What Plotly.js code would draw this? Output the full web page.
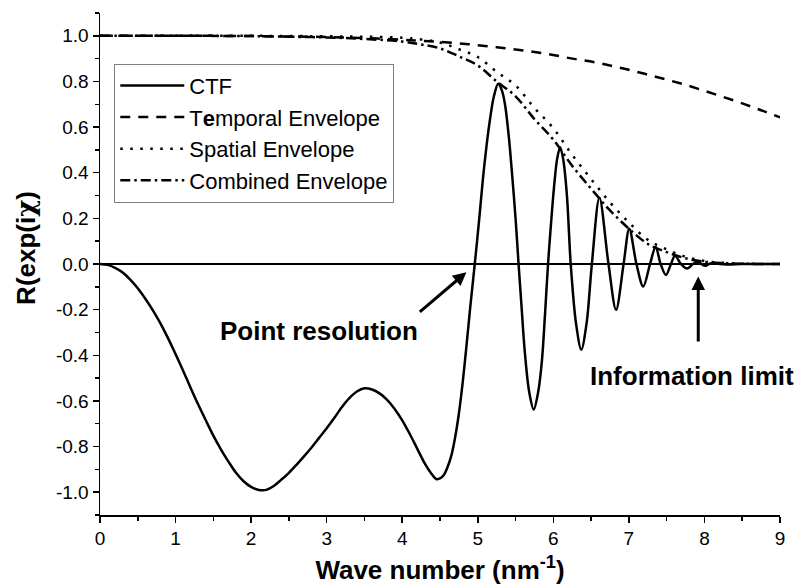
<!DOCTYPE html>
<html>
<head>
<meta charset="utf-8">
<script src="https://cdn.plot.ly/plotly-3.0.1.min.js"></script>
<style>html,body{margin:0;padding:0;background:#fff;}#chart{width:797px;height:585px;}</style>
</head>
<body>
<div id="chart"></div>
<script>
// CTF curve
var ctfX = [0, 0.1, 0.2, 0.3, 0.4, 0.5, 0.6, 0.7, 0.8, 0.9, 1.0, 1.1, 1.2, 1.3, 1.4, 1.5, 1.6, 1.7, 1.8, 1.9,
            2.0, 2.1, 2.2, 2.3, 2.4, 2.5, 2.6, 2.7, 2.8, 2.9, 3.0, 3.1, 3.2, 3.3, 3.4, 3.5, 3.6, 3.7, 3.8, 3.9,
            4.0, 4.1, 4.2, 4.3, 4.4, 4.45, 4.5, 4.55, 4.6, 4.65, 4.7, 4.75, 4.8, 4.85, 4.9, 4.96,
            5.02, 5.07, 5.12, 5.16, 5.21, 5.27, 5.32, 5.36, 5.41, 5.45, 5.50, 5.54, 5.58, 5.62, 5.68, 5.74, 5.80, 5.85, 5.89, 5.93,
            5.97, 6.01, 6.05, 6.09, 6.13, 6.18, 6.23, 6.30, 6.37, 6.44, 6.51, 6.61, 6.73, 6.83, 6.93, 7.005, 7.10, 7.19, 7.28, 7.354,
            7.42, 7.49, 7.557, 7.61, 7.69, 7.77, 7.85, 7.92, 7.96, 8.01, 8.06, 8.12, 8.2, 8.3, 8.5, 8.75, 9.0];
var ctfY = [0, -0.004, -0.017, -0.037, -0.068, -0.106, -0.152, -0.203, -0.26, -0.325, -0.395, -0.468, -0.543, -0.616, -0.685, -0.752, -0.812, -0.866, -0.915, -0.952,
            -0.977, -0.99, -0.99, -0.973, -0.945, -0.915, -0.88, -0.843, -0.804, -0.762, -0.72, -0.675, -0.628, -0.588, -0.559, -0.545, -0.55, -0.567, -0.595, -0.635,
            -0.685, -0.745, -0.81, -0.875, -0.925, -0.942, -0.94, -0.925, -0.89, -0.84, -0.76, -0.655, -0.52, -0.36, -0.19, 0,
            0.20, 0.38, 0.53, 0.63, 0.73, 0.79, 0.76, 0.70, 0.56, 0.41, 0.20, 0, -0.19, -0.376, -0.56, -0.638, -0.56, -0.42, -0.22, 0,
            0.18, 0.34, 0.46, 0.512, 0.46, 0.30, 0, -0.26, -0.376, -0.26, 0, 0.29, 0, -0.201, 0, 0.155, 0, -0.099, 0, 0.076,
            0, -0.048, 0, 0.036, 0, -0.02, 0, 0.01, 0, -0.008, 0, 0.004, 0, -0.002, 0, 0, 0];

// Envelopes
var envX = [0, 1, 2, 2.5, 3, 3.5, 4, 4.25, 4.5, 4.75, 5.0, 5.25, 5.5, 5.75, 6.0, 6.25, 6.5, 6.75, 7.0, 7.25, 7.5, 7.75, 8.0, 8.25, 8.5, 8.75, 9.0];
var temporalY = [1.0, 1.0, 0.999, 0.997, 0.995, 0.99, 0.983, 0.978, 0.973, 0.967, 0.959, 0.95, 0.94, 0.929, 0.916, 0.90, 0.887, 0.87, 0.851, 0.83, 0.808, 0.785, 0.759, 0.732, 0.704, 0.674, 0.643];
var spatialY = [1.0, 1.0, 1.0, 0.999, 0.998, 0.996, 0.992, 0.984, 0.971, 0.941, 0.907, 0.842, 0.782, 0.684, 0.595, 0.478, 0.372, 0.27, 0.182, 0.106, 0.064, 0.032, 0.013, 0.005, 0.0015, 0.0005, 0];
var combinedY = [1.0, 1.0, 0.999, 0.996, 0.993, 0.986, 0.975, 0.962, 0.945, 0.91, 0.87, 0.80, 0.735, 0.635, 0.545, 0.43, 0.33, 0.235, 0.155, 0.088, 0.052, 0.025, 0.01, 0.004, 0.001, 0.0003, 0];

// Tick labels
var xTickVals = [0, 1, 2, 3, 4, 5, 6, 7, 8, 9];
var xTickText = ["0", "1", "2", "3", "4", "5", "6", "7", "8", "9"];
var yTickVals = [-1.0, -0.8, -0.6, -0.4, -0.2, 0, 0.2, 0.4, 0.6, 0.8, 1.0];
var yTickText = ["-1.0", "-0.8", "-0.6", "-0.4", "-0.2", "0.0", "0.2", "0.4", "0.6", "0.8", "1.0"];

var seriesNames = ["CTF", "T<b>e</b>mporal Envelope", "Spatial Envelope", "Combined Envelope"];

var FONT = '"Liberation Sans", Arial, sans-serif';

var traces = [
  {x: ctfX, y: ctfY, name: seriesNames[0], type: 'scatter', mode: 'lines',
   line: {color: '#000', width: 2.5, shape: 'spline', smoothing: 0.9}},
  {x: envX, y: temporalY, name: seriesNames[1], type: 'scatter', mode: 'lines',
   line: {color: '#000', width: 2.5, shape: 'spline', dash: '10px,8px'}},
  {x: envX, y: spatialY, name: seriesNames[2], type: 'scatter', mode: 'lines',
   line: {color: '#000', width: 2.5, shape: 'spline', dash: '2.5px,7.5px'}},
  {x: envX, y: combinedY, name: seriesNames[3], type: 'scatter', mode: 'lines',
   line: {color: '#000', width: 2.5, shape: 'spline', dash: '10px,4px,2.5px,4px'}}
];

var layout = {
  width: 797, height: 585,
  margin: {l: 100, r: 17, t: 13, b: 70},
  paper_bgcolor: '#fff', plot_bgcolor: '#fff',
  font: {family: FONT, color: '#000', size: 19},
  showlegend: true,
  legend: {x: 0.021, y: 0.899, xanchor: 'left', yanchor: 'top',
           bgcolor: '#fff', bordercolor: '#808080', borderwidth: 1,
           font: {family: FONT, size: 22, color: '#000'}, itemwidth: 64},
  xaxis: {
    range: [0, 9], tickvals: xTickVals, ticktext: xTickText,
    ticks: 'outside', ticklen: 6, tickwidth: 1.5, tickcolor: '#000',
    showline: true, linecolor: '#000', linewidth: 1.5,
    showgrid: false, zeroline: false,
    tickfont: {family: FONT, size: 19},
    minor: {dtick: 0.5, tick0: 0, ticks: 'outside', ticklen: 4, tickwidth: 1.5, tickcolor: '#000', showgrid: false},
    title: {text: '<b>Wave number (nm<sup>-1</sup>)</b>', font: {family: FONT, size: 26}, standoff: 15}
  },
  yaxis: {
    range: [-1.1, 1.1], tickvals: yTickVals, ticktext: yTickText,
    ticks: 'outside', ticklen: 6, tickwidth: 1.5, tickcolor: '#000',
    showline: true, linecolor: '#000', linewidth: 1.5,
    showgrid: false, zeroline: true, zerolinecolor: '#000', zerolinewidth: 1.5,
    tickfont: {family: FONT, size: 19},
    minor: {dtick: 0.1, tick0: 0, ticks: 'outside', ticklen: 4, tickwidth: 1.5, tickcolor: '#000', showgrid: false}
  },
  annotations: [
    {xref: 'paper', yref: 'paper', x: -0.110, y: 0.5325,
     text: '<b>R(exp(i<span style="font-family:\'DejaVu Serif\'">χ</span>)</b>', textangle: -90,
     showarrow: false, font: {family: FONT, size: 26}, xanchor: 'center', yanchor: 'middle'},
    {xref: 'x', yref: 'y', x: 2.894, y: -0.293, text: '<b>Point resolution</b>', showarrow: false,
     font: {family: FONT, size: 26}, xanchor: 'center', yanchor: 'middle'},
    {xref: 'x', yref: 'y', x: 7.835, y: -0.489, text: '<b>Information limit</b>', showarrow: false,
     font: {family: FONT, size: 26}, xanchor: 'center', yanchor: 'middle'},
    {xref: 'x', yref: 'y', x: 4.85, y: -0.036, axref: 'x', ayref: 'y', ax: 4.213, ay: -0.215,
     text: '', showarrow: true, arrowhead: 2, arrowsize: 0.9, arrowwidth: 3, arrowcolor: '#000', standoff: 0},
    {xref: 'x', yref: 'y', x: 7.918, y: -0.055, axref: 'x', ayref: 'y', ax: 7.918, ay: -0.346,
     text: '', showarrow: true, arrowhead: 2, arrowsize: 0.9, arrowwidth: 3, arrowcolor: '#000', standoff: 0}
  ]
};

Plotly.newPlot('chart', traces, layout, {displayModeBar: false, staticPlot: true});
</script>
</body>
</html>
